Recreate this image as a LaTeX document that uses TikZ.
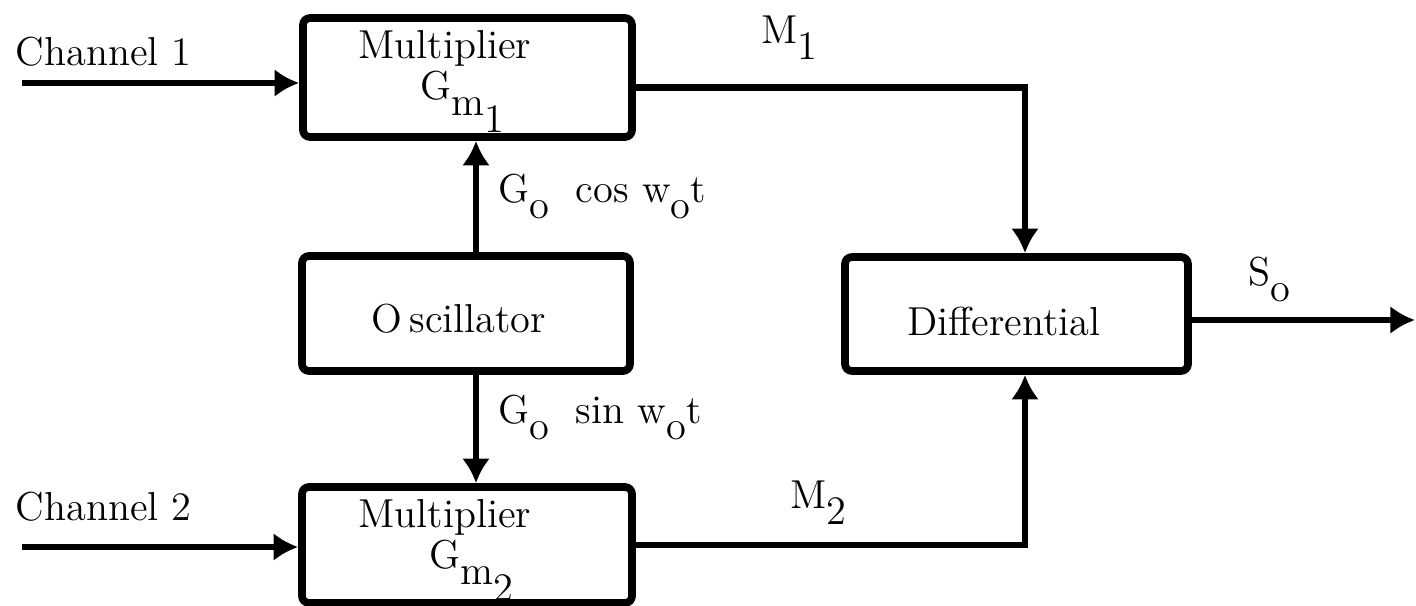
\documentclass[tikz,border=0pt]{standalone}
\usepackage{tikz}
\usetikzlibrary{arrows.meta}
\newcommand{\dn}[1]{\raisebox{-0.42em}{#1}}
\tikzset{
	blk/.style={draw, line width=2.2pt, rounded corners=2pt, inner sep=0pt},
	wire/.style={line width=1.8pt},
	arr/.style={wire, -{Latex[length=7pt,width=8pt]}},
	lbl/.style={font=\fontsize{11.5}{13}\selectfont, inner sep=0pt, anchor=base west}
}
\begin{document}
\begin{tikzpicture}
	\useasboundingbox (0,0) rectangle (14.16,6.05);
	\node[blk, minimum width=3.29cm, minimum height=1.19cm] (mult1) at (4.675,5.275) {};
	\node[blk, minimum width=3.28cm, minimum height=1.15cm] (osc) at (4.66,2.915) {};
	\node[blk, minimum width=3.30cm, minimum height=1.16cm] (mult2) at (4.67,0.60) {};
	\node[blk, minimum width=3.43cm, minimum height=1.14cm] (diff) at (10.165,2.91) {};
	\node[lbl] (ch1) at (0.15,5.40) {Channel 1};
	\node[lbl] (ch2) at (0.15,0.85) {Channel 2};
	\node[lbl, anchor=base] (m1txt) at (4.45,5.47) {Multiplier};
	\node[lbl] (g1) at (4.20,5.06) {G\dn{m\dn{1}}};
	\node[lbl, anchor=base] (m2txt) at (4.45,0.78) {Multiplier};
	\node[lbl] (g2) at (4.29,0.37) {G\dn{m\dn{2}}};
	\node[lbl, anchor=base] (osctxt) at (4.59,2.73) {O\,scillator};
	\node[lbl, anchor=base] (difftxt) at (10.04,2.70) {Differential};
	\node[lbl] (cos) at (4.98,4.03) {G\dn{o}\ \ cos w\dn{o}t};
	\node[lbl] (sin) at (4.98,1.82) {G\dn{o}\ \ sin w\dn{o}t};
	\node[lbl] (lm1) at (7.61,5.62) {M\dn{1}};
	\node[lbl] (lm2) at (7.90,0.97) {M\dn{2}};
	\node[lbl] (lso) at (12.48,3.20) {S\dn{o}};
	\coordinate (in1) at (0.22,5.22);
	\coordinate (in2) at (0.22,0.58);
	\coordinate (tap) at (4.76,0);
	\coordinate (sum) at (10.25,0);
	\coordinate (out) at (14.15,2.85);
	\draw[arr] (in1) -- (in1 -| mult1.west);
	\draw[arr] (in2) -- (in2 -| mult2.west);
	\draw[arr] (osc.north -| tap) -- (mult1.south -| tap);
	\draw[arr] (osc.south -| tap) -- (mult2.north -| tap);
	\draw[arr] ([yshift=-1mm]mult1.east) -| (diff.north -| sum);
	\draw[arr] (mult2.east) -| (diff.south -| sum);
	\draw[arr] (diff.east |- out) -- (out);
\end{tikzpicture}
\end{document}
